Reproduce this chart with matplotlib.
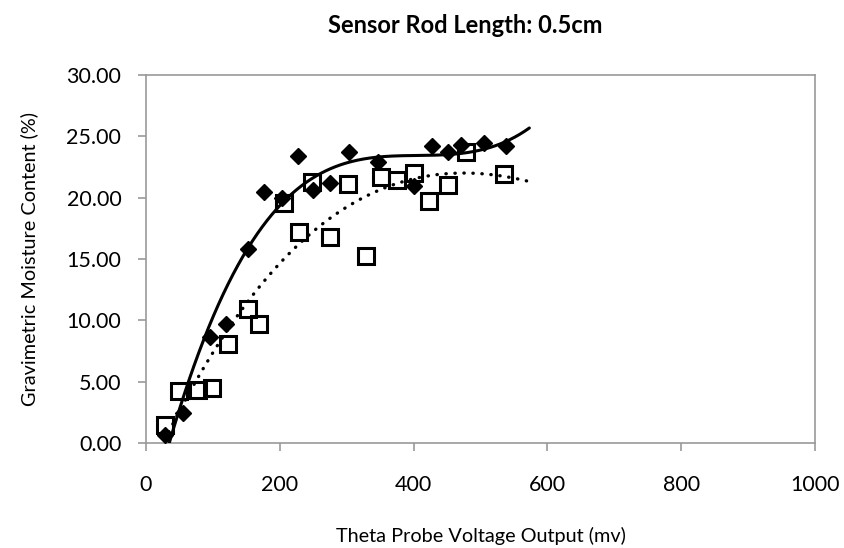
import numpy as np
import matplotlib.pyplot as plt
from matplotlib.ticker import FormatStrFormatter

plt.rcParams['font.family'] = ['Lato', 'DejaVu Sans']

# diamonds: filled series
diamond_x = [28, 55, 95, 120, 152, 176, 204, 227, 250, 275, 304, 347, 401, 427, 451, 471, 505, 538]
diamond_y = [0.65, 2.42, 8.66, 9.67, 15.8, 20.5, 20.0, 23.4, 20.6, 21.2, 23.7, 22.9, 20.95, 24.2, 23.7, 24.3, 24.45, 24.2]

# squares: open series
square_x = [28, 50, 78, 98, 122, 152, 169, 206, 229, 248, 275, 302, 329, 352, 375, 401, 423, 452, 478, 535]
square_y = [1.5, 4.2, 4.3, 4.45, 8.1, 10.9, 9.7, 19.55, 17.2, 21.3, 16.76, 21.15, 15.27, 21.65, 21.45, 22.0, 19.75, 21.03, 23.74, 21.92]

x_ticks = [0, 200, 400, 600, 800, 1000]
y_ticks = [0, 5, 10, 15, 20, 25, 30]

diamond_forecast = 35
square_forecast = 44


def trend(xs, ys, forecast, order=3):
    coef = np.polyfit(xs, ys, order)
    xx = np.linspace(min(xs), max(xs) + forecast, 300)
    return xx, np.polyval(coef, xx)


def main():
    fig = plt.figure(figsize=(8.45, 5.48), dpi=100)
    ax = fig.add_axes([0.1728, 0.1916, 0.7917, 0.6715])

    xx, yy = trend(diamond_x, diamond_y, diamond_forecast)
    ax.plot(xx, yy, color='black', lw=2.2, solid_capstyle='round', zorder=3)

    xx, yy = trend(square_x, square_y, square_forecast)
    ax.plot(xx, yy, color='black', lw=2.4, linestyle=(0, (0.1, 2.6)),
            dash_capstyle='round', zorder=3)

    ax.plot(square_x, square_y, linestyle='none', marker='s', ms=11.5,
            mfc='none', mec='black', mew=2.2, zorder=4)
    ax.plot(diamond_x, diamond_y, linestyle='none', marker='D', ms=8.5,
            mfc='black', mec='black', mew=1, zorder=5)

    ax.set_xlim(0, 1000)
    ax.set_ylim(0, 30)
    ax.set_xticks(x_ticks)
    ax.set_yticks(y_ticks)
    ax.yaxis.set_major_formatter(FormatStrFormatter('%.2f'))

    for s in ax.spines.values():
        s.set_color('#999999')
        s.set_linewidth(1.2)
    ax.tick_params(axis='both', direction='out', length=5.8, width=1.2,
                   color='#999999', labelsize=15.5, labelcolor='black')
    ax.tick_params(axis='x', pad=17)
    ax.tick_params(axis='y', pad=12)

    ax.set_xlabel('Theta Probe Voltage Output (mv)', fontsize=14.3, labelpad=23)
    ax.set_ylabel('Gravimetric Moisture Content (%)', fontsize=14.3, labelpad=20)
    fig.suptitle('Sensor Rod Length: 0.5cm', fontsize=17, fontweight='bold',
                 x=0.55, y=0.975)

    fig.savefig('out.png', dpi=100)


if __name__ == "__main__":
    main()
